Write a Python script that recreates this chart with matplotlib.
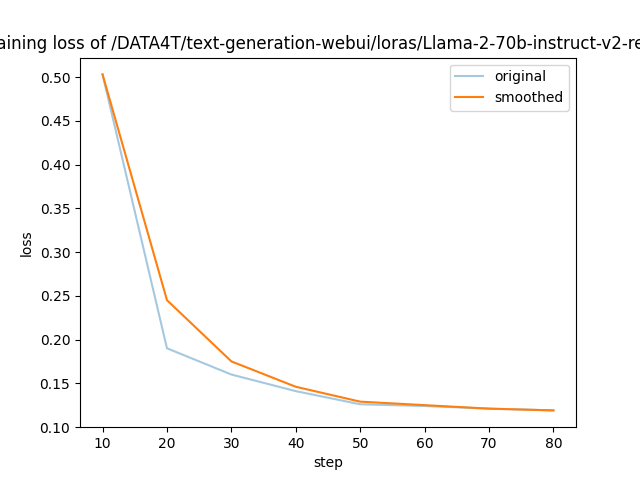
import matplotlib
matplotlib.use("Agg")
import matplotlib.pyplot as plt

steps = [10, 20, 30, 40, 50, 60, 70, 80]
original = [0.503, 0.190, 0.160, 0.141, 0.126, 0.124, 0.121, 0.119]
smoothed = [0.503, 0.245, 0.175, 0.146, 0.129, 0.125, 0.121, 0.119]
title = "training loss of /DATA4T/text-generation-webui/loras/Llama-2-70b-instruct-v2-rerun"

plt.figure(figsize=(6.4, 4.8), dpi=100)
plt.plot(steps, original, color="#1f77b4", alpha=0.4, label="original")
plt.plot(steps, smoothed, color="#ff7f0e", label="smoothed")
plt.title(title)
plt.xlabel("step")
plt.ylabel("loss")
plt.legend()
plt.savefig("out.png")
